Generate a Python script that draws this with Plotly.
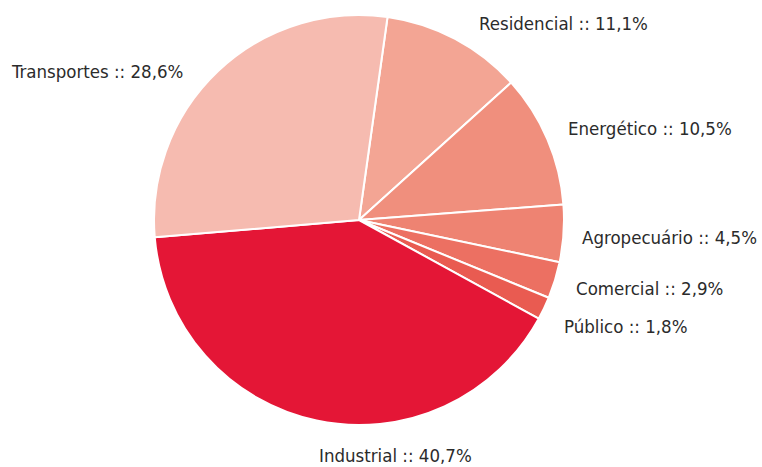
import plotly.graph_objects as go

categories = ["Residencial", "Energético", "Agropecuário", "Comercial", "Público", "Industrial", "Transportes"]
values = [11.1, 10.5, 4.5, 2.9, 1.8, 40.7, 28.6]
colors = ["#F3A594", "#F08F7D", "#EE8372", "#EC7062", "#E95B51", "#E41636", "#F6BBB0"]

W, H = 762, 467
cx, cy, r = 359, 220, 205

# label anchor pixels (left x, center y)
label_pos = [(477, 23), (566, 128), (580, 238), (574, 288), (562, 326), (317, 455), (9, 71)]

fig = go.Figure(go.Pie(
    labels=categories,
    values=values,
    sort=False,
    direction="clockwise",
    rotation=8,
    marker=dict(colors=colors, line=dict(color="white", width=2)),
    textinfo="none",
    hoverinfo="label+percent",
    showlegend=False,
    domain=dict(x=[(cx - r) / W, (cx + r) / W], y=[1 - (cy + r) / H, 1 - (cy - r) / H]),
))

annotations = []
for cat, v, (px, py) in zip(categories, values, label_pos):
    annotations.append(dict(
        x=px / W, y=1 - py / H, xref="paper", yref="paper",
        xanchor="left", yanchor="middle", showarrow=False,
        text=f"{cat} :: {str(v).replace('.', ',')}%",
        font=dict(family="DejaVu Sans Condensed, Roboto, sans-serif", size=18.5, color="#2b2b2b"),
    ))

fig.update_layout(
    width=W, height=H,
    margin=dict(l=0, r=0, t=0, b=0),
    paper_bgcolor="white",
    plot_bgcolor="white",
    annotations=annotations,
)

fig.write_html("out.html")
